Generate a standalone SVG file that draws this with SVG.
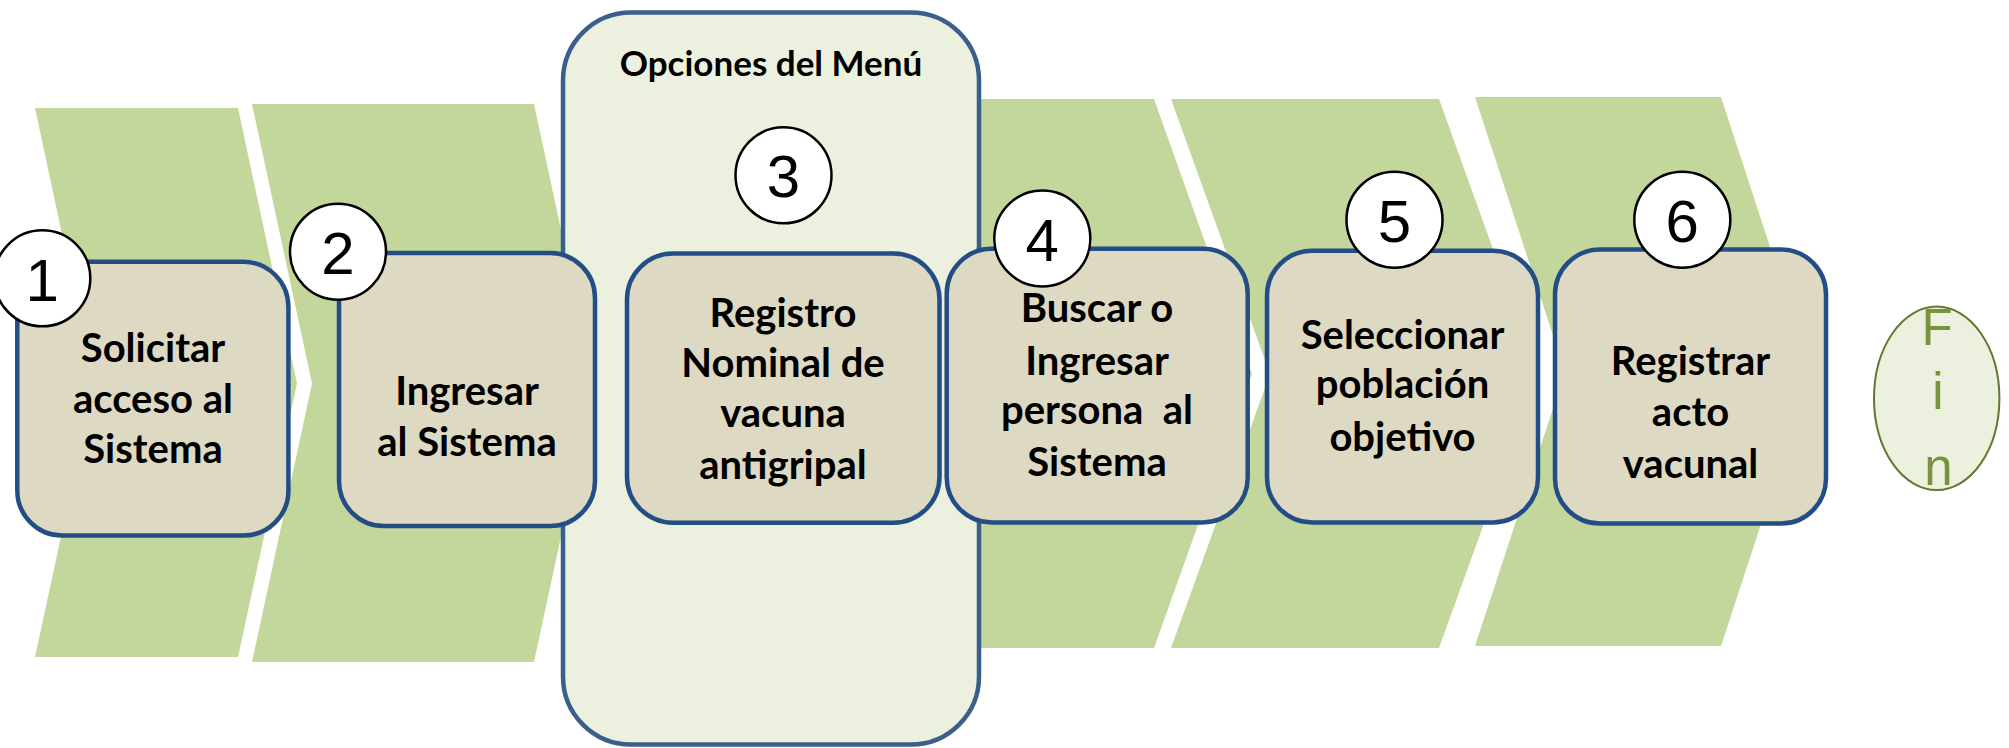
<svg xmlns="http://www.w3.org/2000/svg" width="2009" height="748" viewBox="0 0 2009 748">
<style>
.chev{fill:#C3D69B;stroke:none}
.menu{fill:#EBF1DE;stroke:#3A5F8C;stroke-width:4.5}
.box{fill:#DDD9C3;stroke:#234E85;stroke-width:4.5}
.num{fill:#FFFFFF;stroke:#000000;stroke-width:2.5}
.numt{font-family:"Liberation Sans",Arial,sans-serif;font-size:60px;fill:#000;text-anchor:middle}
.lbl{font-family:Lato,"Liberation Sans",sans-serif;font-weight:bold;font-size:40px;fill:#000;text-anchor:middle;white-space:pre}
.title{font-family:Lato,"Liberation Sans",sans-serif;font-weight:bold;font-size:35px;fill:#000;text-anchor:middle}
.fin{font-family:"Liberation Sans",Arial,sans-serif;font-size:51px;fill:#77933C;text-anchor:middle}
</style>
<g id="background">
<polygon class="chev" points="35,108 238,108 297,383.5 238,657 35,657 94,383.5"/>
<polygon class="chev" points="252,104 534,104 594,383.5 534,662 252,662 312,383.5"/>
<polygon class="chev" points="800,99 1154,99 1252,374 1154,648 800,648"/>
<polygon class="chev" points="1171,99 1439,99 1538,374 1439,648 1171,648 1270,374"/>
<polygon class="chev" points="1475,97 1721,97 1811,372 1721,646 1475,646 1565,372"/>
</g>
<g id="menu">
<rect class="menu" x="563" y="12.5" width="416" height="732" rx="68" ry="68"/>
<text class="title" x="771" y="76">Opciones del Menú</text>
</g>
<g id="connectors"></g>
<g id="node1">
<rect class="box" x="17.3" y="261.8" width="271.1" height="273.7" rx="45"/>
<text class="lbl" x="153" y="361.7">Solicitar</text>
<text class="lbl" x="153" y="412.6">acceso al</text>
<text class="lbl" x="153" y="463">Sistema</text>
<circle class="num" cx="42.3" cy="278.3" r="48"/>
<text class="numt" x="42.3" y="300.5">1</text>
</g>
<g id="node2">
<rect class="box" x="339" y="253" width="256" height="273" rx="45"/>
<text class="lbl" x="467" y="404.6">Ingresar</text>
<text class="lbl" x="467" y="455.5">al Sistema</text>
<circle class="num" cx="338" cy="251.7" r="48"/>
<text class="numt" x="338" y="273.7">2</text>
</g>
<g id="node3">
<rect class="box" x="627" y="253.5" width="312.5" height="269.2" rx="46"/>
<text class="lbl" x="783" y="326.8">Registro</text>
<text class="lbl" x="783" y="376.9">Nominal de</text>
<text class="lbl" x="783" y="427">vacuna</text>
<text class="lbl" x="783" y="478.5">antigripal</text>
<circle class="num" cx="783.5" cy="175.3" r="48"/>
<text class="numt" x="783.5" y="197.3">3</text>
</g>
<g id="node4">
<rect class="box" x="946.7" y="248.8" width="301" height="273.6" rx="45"/>
<text class="lbl" x="1097" y="321.9">Buscar o</text>
<text class="lbl" x="1097" y="374.7">Ingresar</text>
<text class="lbl" x="1097" y="424.4">persona  al</text>
<text class="lbl" x="1097" y="476">Sistema</text>
<circle class="num" cx="1042.3" cy="238.5" r="48"/>
<text class="numt" x="1042.3" y="260.5">4</text>
</g>
<g id="node5">
<rect class="box" x="1267" y="250.7" width="271" height="271.7" rx="45"/>
<text class="lbl" x="1402.5" y="348.7">Seleccionar</text>
<text class="lbl" x="1402.5" y="398.4">población</text>
<text class="lbl" x="1402.5" y="450.5">objetivo</text>
<circle class="num" cx="1394.5" cy="219.7" r="48"/>
<text class="numt" x="1394.5" y="241.7">5</text>
</g>
<g id="node6">
<rect class="box" x="1555" y="249.5" width="271" height="274" rx="45"/>
<text class="lbl" x="1690.5" y="375.4">Registrar</text>
<text class="lbl" x="1690.5" y="426.3">acto</text>
<text class="lbl" x="1690.5" y="478">vacunal</text>
<circle class="num" cx="1682.3" cy="219.7" r="48"/>
<text class="numt" x="1682.3" y="241.7">6</text>
</g>
<g id="fin">
<ellipse cx="1936.7" cy="398.3" rx="62.7" ry="91.7" fill="#EBF1DE" stroke="#5E7A2E" stroke-width="2"/>
<text class="fin" x="1937" y="345">F</text>
<text class="fin" x="1938" y="409.3">i</text>
<text class="fin" x="1938.5" y="485">n</text>
</g>
</svg>
